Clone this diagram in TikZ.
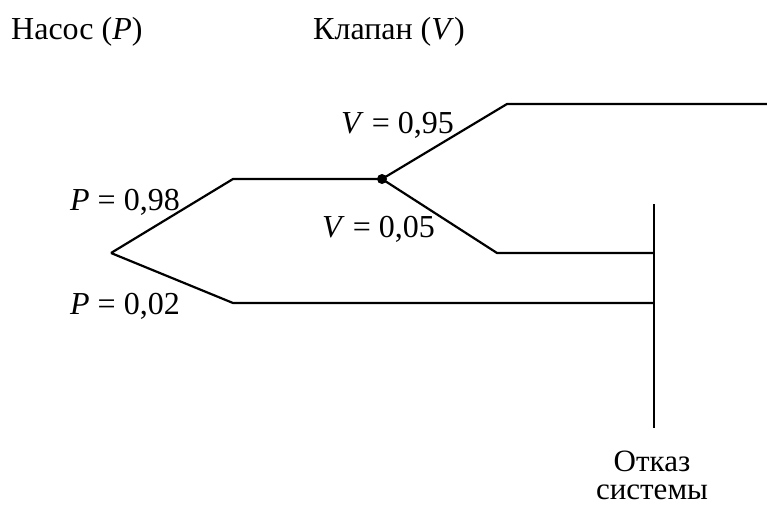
\documentclass[tikz,border=0pt]{standalone}
\usepackage{fontspec}
\setmainfont{Liberation Serif}
\begin{document}
\begin{tikzpicture}[x=1pt,y=-1pt,
  branch/.style={line width=2.2pt, line join=miter},
  lbl/.style={inner sep=0pt, anchor=base west, font=\fontsize{32}{38}\selectfont},
  lblc/.style={inner sep=0pt, anchor=base, font=\fontsize{31}{37}\selectfont}]
\useasboundingbox (0,0) rectangle (767,508);
% points
\coordinate (root) at (111,253);
\coordinate (pu) at (233,179);
\coordinate (valve) at (382,179);
\coordinate (vu) at (507,104);
\coordinate (vuend) at (767,104);
\coordinate (vl) at (497,253);
\coordinate (vlend) at (654,253);
\coordinate (pl) at (233,303);
\coordinate (plend) at (654,303);
\coordinate (bartop) at (654,204);
\coordinate (barbot) at (654,428);
% branches
\draw[branch] (root) -- (pu) -- (valve);
\draw[branch] (valve) -- (vu) -- (vuend);
\draw[branch] (valve) -- (vl) -- (vlend);
\draw[branch] (root) -- (pl) -- (plend);
\draw[branch] (bartop) -- (barbot);
\fill (valve) circle (5);
% labels
\node[lbl] (hp) at (11,40) {Насос (\textit{P})};
\node[lbl] (hv) at (313,40) {Клапан (\textit{V})};
\node[lbl] (v95) at (341,133) {\textit{V} = 0,95};
\node[lbl] (p98) at (70,210) {\textit{P} = 0,98};
\node[lbl] (v05) at (322,237) {\textit{V} = 0,05};
\node[lbl] (p02) at (70,314) {\textit{P} = 0,02};
\node[lblc] (f1) at (652,471) {Отказ};
\node[lblc] (f2) at (652,499) {системы};
\end{tikzpicture}
\end{document}
